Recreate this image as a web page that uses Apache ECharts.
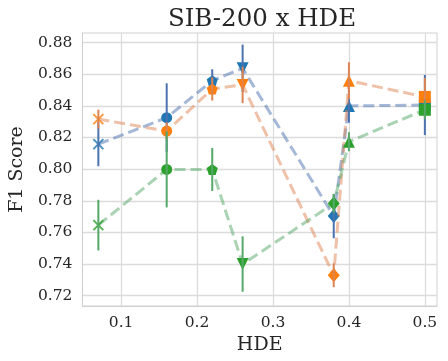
<!DOCTYPE html>
<html>
<head>
<meta charset="utf-8">
<script src="https://cdn.jsdelivr.net/npm/echarts@6/dist/echarts.min.js"></script>
<style>html,body{margin:0;padding:0;background:#fff}#c{width:448px;height:361px}</style>
</head>
<body>
<div id="c"></div>
<script>
// ---- data ----
const hde = [0.07, 0.16, 0.22, 0.26, 0.38, 0.40, 0.50];
const markers = ['x', 'circle', 'pentagon', 'tridown', 'diamond', 'triup', 'square'];
const blueF1 = [0.8158, 0.8325, 0.8559, 0.8637, 0.7703, 0.8399, 0.8405];
const blueErr = [0.014, 0.0217, 0.0072, 0.015, 0.014, 0.0106, 0.019];
const orangeF1 = [0.8316, 0.8240, 0.8506, 0.8532, 0.7329, 0.8559, 0.8456];
const orangeErr = [0.006, 0.0055, 0.0073, 0.0115, 0.0075, 0.0116, 0.012];
const greenF1 = [0.7646, 0.7998, 0.7998, 0.7400, 0.7783, 0.8173, 0.8375];
const greenErr = [0.016, 0.024, 0.0136, 0.0175, 0.006, 0.006, 0.006];
const xTicks = [0.1, 0.2, 0.3, 0.4, 0.5];
const yTicks = [0.72, 0.74, 0.76, 0.78, 0.80, 0.82, 0.84, 0.86, 0.88];

const FONT = '"DejaVu Serif", serif';
const symMap = {
  x: {symbol: 'path://M0,0L10,10M10,0L0,10', size: 10, stroke: true},
  circle: {symbol: 'circle', size: 11},
  pentagon: {symbol: 'path://M5,0L10,3.8L8.1,10L1.9,10L0,3.8Z', size: 11},
  tridown: {symbol: 'path://M0,0L10,0L5,9Z', size: [12, 12]},
  diamond: {symbol: 'diamond', size: [12, 14]},
  triup: {symbol: 'path://M5,0L10,9L0,9Z', size: [12, 12]},
  square: {symbol: 'rect', size: 12}
};

const groups = [
  {vals: blueF1, err: blueErr, mark: '#1f77b4', deep: '#4c72b0'},
  {vals: orangeF1, err: orangeErr, mark: '#ff7f0e', deep: '#dd8452'},
  {vals: greenF1, err: greenErr, mark: '#2ca02c', deep: '#55a868'}
];

const series = [];
groups.forEach((g, gi) => {
  const pts = hde.map((x, i) => [x, g.vals[i]]);
  series.push({
    type: 'line', data: pts, showSymbol: false, symbol: 'none', silent: true,
    z: 2 + gi * 3,
    lineStyle: {color: g.deep, width: 3, opacity: 0.5, type: [11, 5]}
  });
  series.push({
    type: 'scatter', z: 3 + gi * 3,
    data: pts.map((p, i) => {
      const s = symMap[markers[i]];
      return {
        value: p, symbol: s.symbol, symbolSize: s.size,
        itemStyle: s.stroke ? {color: 'none', borderColor: g.mark, borderWidth: 2}
                            : {color: g.mark, borderWidth: 0, opacity: 1}
      };
    })
  });
  series.push({
    type: 'custom', z: 4 + gi * 3,
    data: hde.map((x, i) => [x, g.vals[i] - g.err[i], g.vals[i] + g.err[i]]),
    renderItem: (params, api) => {
      const a = api.coord([api.value(0), api.value(1)]);
      const b = api.coord([api.value(0), api.value(2)]);
      return {type: 'line', shape: {x1: a[0], y1: a[1], x2: b[0], y2: b[1]},
        style: {stroke: g.deep, lineWidth: 2}};
    }
  });
});

const chart = echarts.init(document.getElementById('c'), null, {renderer: 'canvas'});
chart.setOption({
  animation: false,
  backgroundColor: '#fff',
  title: {text: 'SIB-200 x HDE', left: 257, top: 2, textAlign: 'center',
    textStyle: {fontFamily: FONT, fontSize: 24.5, fontWeight: 'normal', color: '#262626'}},
  grid: {left: 77, right: 11, top: 33, bottom: 55, show: true, borderColor: '#d0d0d0', borderWidth: 1, backgroundColor: 'transparent'},
  xAxis: {
    type: 'value', min: 0.049, max: 0.516,
    name: 'HDE', nameLocation: 'middle', nameGap: 25,
    nameTextStyle: {fontFamily: FONT, fontSize: 19, color: '#262626'},
    axisLine: {show: true, lineStyle: {color: '#d0d0d0', width: 1}},
    axisTick: {show: false, customValues: xTicks},
    axisLabel: {customValues: xTicks, fontFamily: FONT, fontSize: 15.5, color: '#262626', margin: 9,
      formatter: v => v.toFixed(1)},
    splitLine: {show: true, lineStyle: {color: '#dcdcdc', width: 1.3}}
  },
  yAxis: {
    type: 'value', min: 0.7135, max: 0.886,
    name: 'F1 Score', nameLocation: 'middle', nameGap: 51,
    nameTextStyle: {fontFamily: FONT, fontSize: 19, color: '#262626'},
    axisLine: {show: true, lineStyle: {color: '#d0d0d0', width: 1}},
    axisTick: {show: false, customValues: yTicks},
    axisLabel: {customValues: yTicks, fontFamily: FONT, fontSize: 15.5, color: '#262626', margin: 10,
      formatter: v => v.toFixed(2)},
    splitLine: {show: true, lineStyle: {color: '#dcdcdc', width: 1.3}}
  },
  series: series
});
</script>
</body>
</html>
